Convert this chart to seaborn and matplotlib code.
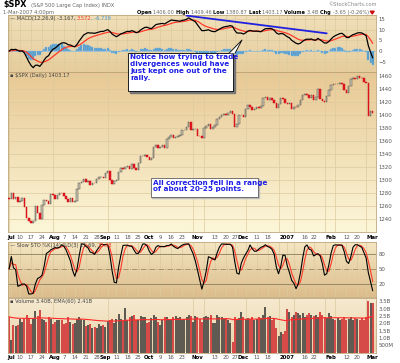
import numpy as np
import pandas as pd
import seaborn as sns
import matplotlib.pyplot as plt
from matplotlib.colors import LinearSegmentedColormap
from matplotlib.patches import Rectangle, Polygon

sns.set_style("white")
plt.rcParams['font.family'] = ['DejaVu Sans']

# trading days Jun 30 2006 .. Mar 1 2007
holidays = ['2006-07-04', '2006-09-04', '2006-11-23', '2006-12-25',
            '2007-01-01', '2007-01-02', '2007-01-15', '2007-02-19']
dates = pd.bdate_range('2006-06-30', '2007-03-01')
dates = dates[~dates.isin(pd.to_datetime(holidays))]

# daily closes of $SPX
closes = [
    1270.20,
    # Jul
    1280.19, 1270.91, 1274.08, 1265.48, 1267.34, 1272.43, 1258.60, 1242.28, 1236.20, 1234.49,
    1236.86, 1259.81, 1249.13, 1240.29, 1260.91, 1268.88, 1268.40, 1263.20, 1278.55, 1276.66,
    # Aug
    1270.92, 1277.41, 1280.27, 1279.36, 1275.77, 1271.48, 1265.95, 1271.81, 1266.74, 1268.21,
    1285.58, 1295.43, 1297.48, 1302.30, 1297.52, 1298.82, 1292.99, 1296.06, 1295.09, 1301.78,
    1304.28, 1305.37, 1303.82,
    # Sep
    1311.01, 1313.25, 1300.26, 1294.02, 1298.92, 1299.54, 1313.00, 1318.07, 1316.28, 1319.66,
    1321.18, 1317.64, 1325.18, 1318.03, 1314.78, 1326.37, 1336.35, 1336.59, 1338.88, 1335.85,
    # Oct
    1331.32, 1334.11, 1350.20, 1353.22, 1349.59, 1350.66, 1353.42, 1349.95, 1362.83, 1365.62,
    1369.06, 1364.05, 1365.80, 1366.96, 1368.60, 1377.02, 1377.38, 1382.22, 1389.08, 1377.34,
    1377.93, 1377.94,
    # Nov
    1367.81, 1367.34, 1364.30, 1379.78, 1382.84, 1385.72, 1378.33, 1380.90, 1384.42, 1393.22,
    1396.57, 1399.76, 1401.20, 1400.50, 1402.81, 1406.09, 1400.95, 1381.96, 1386.72, 1399.48,
    1400.63,
    # Dec
    1396.71, 1409.12, 1414.76, 1412.90, 1407.29, 1409.84, 1413.04, 1411.56, 1413.21, 1425.49,
    1427.09, 1422.48, 1425.55, 1423.53, 1418.30, 1410.76, 1416.90, 1426.84, 1424.73, 1418.30,
    # Jan
    1416.60, 1418.34, 1409.71, 1412.84, 1412.11, 1414.85, 1423.82, 1430.73, 1431.90, 1430.62,
    1426.37, 1430.50, 1422.95, 1427.99, 1440.13, 1423.90, 1422.18, 1420.62, 1428.82, 1438.24,
    # Feb
    1445.94, 1448.39, 1446.99, 1448.00, 1450.02, 1448.31, 1438.06, 1433.37, 1444.26, 1455.30,
    1456.81, 1455.54, 1459.68, 1457.63, 1456.38, 1451.19, 1449.37, 1399.04, 1406.82,
    # Mar
    1403.17,
]
first_open = 1272.0

# daily volume, billions
volumes = [
    2.45,
    0.88, 1.85, 1.80, 1.85, 2.30, 2.10, 2.30, 2.60, 2.30, 1.95,
    2.30, 2.85, 2.50, 2.90, 2.30, 2.25, 2.10, 2.40, 2.30, 1.95,
    2.10, 2.20, 2.25, 2.20, 1.95, 2.05, 2.40, 2.10, 1.95, 2.05,
    2.30, 2.40, 2.30, 2.25, 1.80, 1.85, 1.95, 1.70, 1.75, 1.70,
    1.95, 1.80, 1.90,
    1.75, 2.15, 2.20, 2.30, 2.05, 2.30, 2.65, 2.30, 2.15, 3.05,
    2.20, 2.40, 2.50, 2.55, 2.20, 2.25, 2.50, 2.45, 2.40, 2.05,
    2.10, 2.35, 2.60, 2.40, 2.10, 1.85, 2.20, 2.45, 2.40, 2.25,
    2.20, 2.40, 2.50, 2.35, 2.40, 2.20, 2.30, 2.40, 2.55, 2.50,
    2.10, 2.50,
    2.45, 2.30, 2.10, 2.40, 2.50, 2.40, 2.55, 2.05, 2.05, 2.55,
    2.45, 2.40, 2.30, 2.35, 2.25, 2.00, 0.75, 2.40, 2.30, 2.35,
    2.80,
    2.40, 2.30, 2.35, 2.30, 2.45, 2.20, 2.30, 2.45, 2.35, 2.55,
    3.10, 2.40, 2.50, 2.25, 2.30, 1.65, 1.10, 1.40, 1.25, 1.45,
    2.95, 2.80, 2.45, 2.60, 2.75, 2.70, 2.55, 2.70, 2.45, 2.60,
    2.70, 2.55, 2.50, 2.60, 2.45, 2.75, 2.55, 2.45, 2.35, 2.70,
    2.50, 2.30, 2.25, 2.35, 2.25, 2.30, 2.45, 2.20, 2.30, 2.45,
    2.25, 2.35, 2.30, 2.25, 2.35, 2.25, 2.40, 3.55, 3.40,
    3.40,
]

# date axis labels
tick_dates = ['2006-07-03', '2006-07-10', '2006-07-17', '2006-07-24', '2006-08-01', '2006-08-07',
              '2006-08-14', '2006-08-21', '2006-08-28', '2006-09-01', '2006-09-11', '2006-09-18',
              '2006-09-25', '2006-10-02', '2006-10-09', '2006-10-16', '2006-10-23', '2006-11-01',
              '2006-11-13', '2006-11-20', '2006-11-27', '2006-12-01', '2006-12-11', '2006-12-18',
              '2007-01-03', '2007-01-16', '2007-01-22', '2007-02-01', '2007-02-12', '2007-02-20',
              '2007-03-01']
tick_labels = ['Jul', '10', '17', '24', 'Aug', '7', '14', '21', '28', 'Sep', '11', '18', '25',
               'Oct', '9', '16', '23', 'Nov', '13', '20', '27', 'Dec', '11', '18', '2007',
               '16', '22', 'Feb', '12', '20', 'Mar']
month_labels = ['Jul', 'Aug', 'Sep', 'Oct', 'Nov', 'Dec', '2007', 'Feb', 'Mar']

price_ticks = list(range(1240, 1461, 20))
macd_ticks = [-5, 0, 5, 10, 15]
vol_ticks = [0.5, 1.0, 1.5, 2.0, 2.5, 3.0, 3.5]
vol_tick_labels = ['500M', '1.0B', '1.5B', '2.0B', '2.5B', '3.0B', '3.5B']

# hand drawn divergence line on MACD (day index, MACD value)
trend_x = [81, 145]
trend_y = [16.6, 8.3]

df = pd.DataFrame({'date': dates, 'close': closes, 'volume': volumes})
df['x'] = np.arange(len(df))
df['prev'] = df['close'].shift(1).fillna(first_open)
df['up'] = df['close'] >= df['prev']

ema12 = df['close'].ewm(span=12, adjust=False).mean()
ema26 = df['close'].ewm(span=26, adjust=False).mean()
df['macd'] = ema12 - ema26
df['signal'] = df['macd'].ewm(span=9, adjust=False).mean()
df['hist'] = df['macd'] - df['signal']

hi = df['close'].rolling(14, min_periods=1).max()
lo = df['close'].rolling(14, min_periods=1).min()
fast = (100 * (df['close'] - lo) / (hi - lo)).fillna(50)
df['slowk'] = fast.rolling(3, min_periods=1).mean()
df['slowd'] = df['slowk'].rolling(3, min_periods=1).mean()
df['vema'] = df['volume'].ewm(span=60, adjust=False).mean()

week_x = df['x'][df['date'].dt.weekday.diff().fillna(-1) < 0].values
tick_x = [df['x'][df['date'] == pd.Timestamp(d)].values[0] for d in tick_dates]

W, H = 400, 363
fig = plt.figure(figsize=(W / 100, H / 100), dpi=100)
fig.patch.set_facecolor('white')

grid_c = '#dccb9f'
lab_c = '#555555'
fs = 3.9
XLIM = (-0.5, len(df) + 0.5)


def rect_of(top, bottom):
    return [8 / W, 1 - bottom / H, 368 / W, (bottom - top) / H]


def panel(top, bottom, c_top, c_bot):
    # gradient background on its own axes behind the panel
    bg = fig.add_axes(rect_of(top, bottom), zorder=0)
    grad = np.linspace(0, 1, 64)[:, None]
    cmap = LinearSegmentedColormap.from_list('bg', [c_top, c_bot])
    bg.imshow(grad, cmap=cmap, aspect='auto')
    bg.axis('off')
    ax = fig.add_axes(rect_of(top, bottom), zorder=1)
    ax.patch.set_alpha(0)
    ax.set_xticks(week_x, minor=True)
    ax.set_xticks([])
    ax.grid(True, which='minor', axis='x', color=grid_c, lw=0.5)
    ax.set_axisbelow(True)
    ax.yaxis.tick_right()
    ax.tick_params(axis='both', which='both', length=0, labelsize=fs,
                   labelcolor=lab_c, pad=2)
    for s in ax.spines.values():
        s.set_color('#bfa67a')
        s.set_linewidth(0.6)
    return ax


def layer(top, bottom):
    # transparent axes on top for indicator lines
    la = fig.add_axes(rect_of(top, bottom), zorder=11)
    la.axis('off')
    return la


def finish(ax, ylim, yticks=None, ylabels=None):
    ax.set_xlim(*XLIM)
    ax.set_ylim(*ylim)
    if yticks is not None:
        ax.set_yticks(yticks, ylabels)
    ax.set_xlabel('')
    ax.set_ylabel('')


def date_axis(ax):
    ax.set_xticks(tick_x, tick_labels)
    ax.tick_params(axis='x', length=0, labelsize=fs, pad=2)
    for t in ax.get_xticklabels():
        if t.get_text() in month_labels:
            t.set_fontweight('bold')
            t.set_color('black')
        else:
            t.set_color(lab_c)


# MACD
macd_lim = (-9.8, 16.9)
ax_m = panel(15, 72, '#f0dfb9', '#e7cd9c')
ax_m.bar(df['x'], df['hist'], width=0.9, color='#4e97c9', edgecolor='#8fc0e0', lw=0.3, zorder=2)
ax_m.axhline(0, color='#9fbfd6', lw=0.6, zorder=1)
ax_m.grid(True, which='major', axis='y', color=grid_c, lw=0.5)
finish(ax_m, macd_lim, macd_ticks)
lm = layer(15, 72)
lm.plot(df['x'].to_numpy(), df['signal'].to_numpy(), color='#ff3a2a', lw=0.9)
lm.plot(df['x'].to_numpy(), df['macd'].to_numpy(), color='black', lw=0.9)
lm.plot(trend_x, trend_y, color='#2020e0', lw=1.3)
finish(lm, macd_lim)

# price
ax_p = panel(72, 232, '#e8c995', '#fcf6d8')
dn = df[~df['up']]
upd = df[df['up']]
ax_p.bar(upd['x'], (upd['close'] - upd['prev']).clip(lower=0.6), bottom=upd['prev'],
         width=0.7, color='#cfc7b0', edgecolor='#4a4a4a', lw=0.35, zorder=3)
ax_p.bar(dn['x'], (dn['prev'] - dn['close']).clip(lower=0.6), bottom=dn['close'],
         width=0.7, color='#e3141c', edgecolor='#d0101a', lw=0.35, zorder=3)
ax_p.grid(True, which='major', axis='y', color=grid_c, lw=0.5)
finish(ax_p, (1220, 1466.2), price_ticks)
date_axis(ax_p)

# slow stochastics
sto_lim = (-6, 104)
ax_s = panel(242, 297, '#f4e6c2', '#dcbd8c')
for lvl in (20, 80):
    ax_s.axhline(lvl, color='#9a8866', lw=0.7, zorder=1)
ax_s.axhline(50, color='#9a8866', lw=0.6, ls='-.', zorder=1)
finish(ax_s, sto_lim, [20, 50, 80])
ls_ = layer(242, 297)
sns.lineplot(data=df, x='x', y='slowd', ax=ls_, color='#ff3a2a', lw=0.8)
sns.lineplot(data=df, x='x', y='slowk', ax=ls_, color='black', lw=0.8)
finish(ls_, sto_lim)

# volume
vol_lim = (0, 3.73)
ax_v = panel(298, 352.5, '#f6ead0', '#e9d4aa')
ax_v.bar(df['x'], df['volume'], width=0.9,
         color=np.where(df['up'], '#5f5a52', '#d64a48'), edgecolor='none', zorder=2)
finish(ax_v, vol_lim, vol_ticks, vol_tick_labels)
date_axis(ax_v)
lv = layer(298, 352.5)
lv.plot(df['x'].to_numpy(), df['vema'].to_numpy(), color='#ff2a2a', lw=0.8)
finish(lv, vol_lim)

# overlay in pixel coords for header, legends and notes
ov = fig.add_axes([0, 0, 1, 1], zorder=12)
ov.set_xlim(0, W)
ov.set_ylim(H, 0)
ov.axis('off')
renderer = fig.canvas.get_renderer()


def run(x, y, parts, size=fs):
    # place text pieces one after another
    for txt, color, weight in parts:
        t = ov.text(x, y, txt, fontsize=size, color=color, fontweight=weight, va='center')
        x += t.get_window_extent(renderer).width
    return x


run(3, 5, [('$SPX', 'black', 'bold')], size=5.8)
run(31, 5.5, [('(S&P 500 Large Cap Index) INDX', '#666', 'normal')], size=3.7)
run(3, 12.5, [('1-Mar-2007 4:00pm', '#666', 'normal')], size=3.7)
ov.text(377, 4.5, '\u00a9StockCharts.com', fontsize=3.7, color='#888', va='center', ha='right')
hdr = [('Open ', 'black', 'bold'), ('1406.00 ', '#666', 'normal'),
       ('High ', 'black', 'bold'), ('1409.46 ', '#666', 'normal'),
       ('Low ', 'black', 'bold'), ('1380.87 ', '#666', 'normal'),
       ('Last ', 'black', 'bold'), ('1403.17 ', '#666', 'normal'),
       ('Volume ', 'black', 'bold'), ('3.4B ', '#666', 'normal'),
       ('Chg ', 'black', 'bold'), ('-3.65 (-0.26%) ', '#666', 'normal')]
xe = run(137, 12.5, hdr, size=3.6)
ov.add_patch(Polygon([(xe, 11.2), (xe + 4, 11.2), (xe + 2, 14)], color='#d01010'))

run(10, 18.5, [('\u2014 MACD(12,26,9) -3.167, ', '#444', 'normal'), ('3.572', '#ff3a2a', 'normal'),
               (', -6.739', '#4e97c9', 'normal')], size=3.7)
run(10, 76, [('\u25aa $SPX (Daily) 1403.17', '#444', 'normal')], size=3.7)
run(10, 245.5, [('\u2014 Slow STO %K(14) %D(3) 21.69, ', '#444', 'normal'),
                ('33.38', '#ff3a2a', 'normal')], size=3.7)
run(10, 301.5, [('\u25aa Volume 3.40B, EMA(60) 2.41B', '#444', 'normal')], size=3.7)

note_c = '#1f1fe6'
ov.add_patch(Rectangle((130, 55), 105, 38, color='#777777', zorder=1))
ov.add_patch(Rectangle((128, 53), 105, 38, facecolor='white', edgecolor='black', lw=0.6, zorder=2))
ov.add_patch(Polygon([(229, 53.3), (235, 53.3), (242, 40)], facecolor='white', edgecolor='none', zorder=3))
ov.plot([229, 242, 235], [53.3, 40, 53.3], color='black', lw=0.6, zorder=4)
ov.text(130.5, 54.5, 'Notice how trying to trade\ndivergences would have\njust kept one out of the\nrally.',
        fontsize=5.2, fontweight='bold', color=note_c, va='top', linespacing=1.15, zorder=5)

ov.add_patch(Rectangle((152, 179), 107, 19, color='#bbbbbb', zorder=1))
ov.add_patch(Rectangle((151, 178), 107, 19, facecolor='white', edgecolor='#444', lw=0.5, zorder=2))
ov.text(153, 179.5, 'All correction fell in a range\nof about 20-25 points.',
        fontsize=5.2, fontweight='bold', color=note_c, va='top', linespacing=1.15, zorder=5)

fig.savefig('out.png', dpi=100)
